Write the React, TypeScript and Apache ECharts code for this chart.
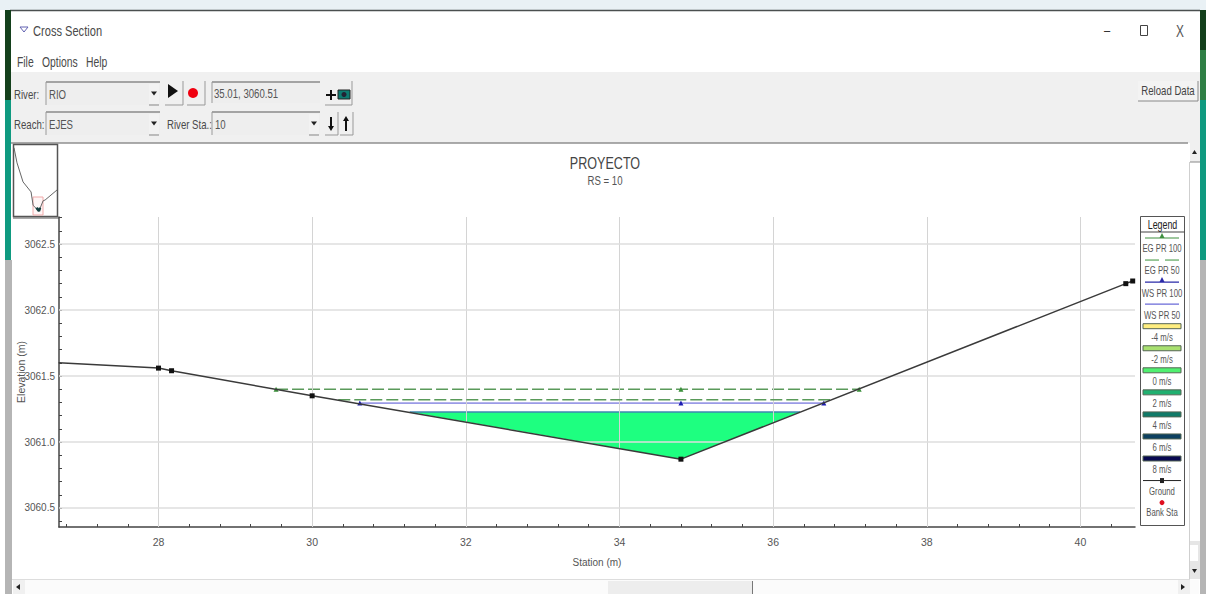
import React, { useEffect, useRef } from "react";
import * as echarts from "echarts";

const xLabels = [28, 30, 32, 34, 36, 38, 40];
const yLabels = [3060.5, 3061.0, 3061.5, 3062.0, 3062.5];
const xMinorTicks = [26.8, 27.2, 27.6, 28, 28.4, 28.8, 29.2, 29.6, 30, 30.4, 30.8, 31.2, 31.6, 32, 32.4, 32.8, 33.2, 33.6, 34, 34.4, 34.8, 35.2, 35.6, 36, 36.4, 36.8, 37.2, 37.6, 38, 38.4, 38.8, 39.2, 39.6, 40, 40.4];
const yMinorTicks = [3060.4, 3060.5, 3060.6, 3060.7, 3060.8, 3060.9, 3061.0, 3061.1, 3061.2, 3061.3, 3061.4, 3061.5, 3061.6, 3061.7, 3061.8, 3061.9, 3062.0, 3062.1, 3062.2, 3062.3, 3062.4, 3062.5, 3062.6, 3062.7];

const groundStations = [26.7, 28, 28.17, 30, 34.8, 40.59, 40.68];
const groundElevations = [3061.6, 3061.56, 3061.54, 3061.35, 3060.87, 3062.2, 3062.22];
const groundMarked = [false, true, true, true, true, true, true];

const eg100Stations = [29.53, 34.8, 37.12];
const eg100Elevation = 3061.4;
const eg50Stations = [30.34, 36.74];
const eg50Elevation = 3061.32;
const ws100Stations = [30.62, 34.8, 36.66];
const ws100Elevation = 3061.295;
const ws50Stations = [31.27, 36.35];
const ws50Elevation = 3061.227;
const waterStations = [31.27, 34.8, 36.35];
const waterElevations = [3061.227, 3060.87, 3061.227];

const overviewStations = [0, 4.2, 12.6, 23.8, 26.7, 34.8, 40.6, 43.4, 60];
const overviewElevations = [3069.07, 3067.12, 3064.65, 3063.35, 3061.6, 3060.87, 3062.2, 3062.3, 3063.6];
const overviewWaterStations = [31.3, 34.8, 36.4];
const overviewWaterElevations = [3061.3, 3060.87, 3061.3];

const legendRows = [
  { label: "EG PR 100", kind: "line", color: "#3f8f3f", mark: true },
  { label: "EG PR 50", kind: "dash", color: "#5aa55a", mark: false },
  { label: "WS PR 100", kind: "line", color: "#2a2aa8", mark: true },
  { label: "WS PR 50", kind: "line", color: "#6a6ad8", mark: false },
  { label: "-4 m/s", kind: "swatch", color: "#ffee80", mark: false },
  { label: "-2 m/s", kind: "swatch", color: "#a8e070", mark: false },
  { label: "0 m/s", kind: "swatch", color: "#50f070", mark: false },
  { label: "2 m/s", kind: "swatch", color: "#20b070", mark: false },
  { label: "4 m/s", kind: "swatch", color: "#107a68", mark: false },
  { label: "6 m/s", kind: "swatch", color: "#0c4060", mark: false },
  { label: "8 m/s", kind: "swatch", color: "#080850", mark: false },
  { label: "Ground", kind: "ground", color: "#222222", mark: true },
  { label: "Bank Sta", kind: "bank", color: "#e01020", mark: true },
];

const FONT = "'Liberation Sans', Arial, sans-serif";
const SQUEEZE = 0.74;

const txt = (x: number, y: number, text: string, size = 12, fill = "#4a4a4a", align = "left") => ({
  type: "text", x, y, scaleX: SQUEEZE, silent: true,
  style: { text, fontFamily: FONT, fontSize: size, fill, align, verticalAlign: "middle" },
});
const box = (x: number, y: number, width: number, height: number, fill: string, stroke = "none", lineWidth = 1) => ({
  type: "rect", silent: true, shape: { x, y, width, height },
  style: { fill, stroke, lineWidth },
});
const seg = (x1: number, y1: number, x2: number, y2: number, stroke: string, lineWidth = 1, lineDash?: number[]) => ({
  type: "line", silent: true, shape: { x1, y1, x2, y2 },
  style: { stroke, lineWidth, lineDash },
});
const poly = (points: number[][], fill: string, stroke = "none") => ({
  type: "polygon", silent: true, shape: { points }, style: { fill, stroke },
});

const dropdown = (x: number, y: number, w: number, h: number, text: string) => [
  box(x, y, w, h, "#eeeeee"),
  seg(x, y, x + w, y, "#8a8a8a", 1.5),
  seg(x, y, x, y + h, "#9a9a9a", 1),
  txt(x + 3, y + h / 2 + 1, text, 13, "#555"),
  box(x + w - 11, y + 2, 10, h - 3, "#f2f2f2"),
  seg(x + w - 11, y + h, x + w - 1, y + h, "#888", 1),
  poly([[x + w - 9, y + h / 2 - 2], [x + w - 3, y + h / 2 - 2], [x + w - 6, y + h / 2 + 2]], "#222"),
];
const button = (x: number, y: number, w: number, h: number) => [
  box(x, y, w, h, "#f0f0f0"),
  seg(x + w, y, x + w, y + h, "#999", 1),
  seg(x, y + h, x + w, y + h, "#999", 1),
];

const chrome = () => {
  const out: any[] = [
    box(0, 0, 1206, 594, "#ffffff"),
    box(0, 0, 1206, 10, "#e9f1f5"),
    seg(10, 10.5, 1200, 10.5, "#4a4f4f", 1.5),
    box(5, 10, 6, 90, "#14401c"),
    box(5, 100, 6, 160, "#0f9a80"),
    box(5, 260, 7, 334, "#b5b5b5"),
    box(1200, 10, 6, 40, "#14401c"),
    box(1200, 50, 6, 50, "#2f7f45"),
    box(1200, 100, 6, 160, "#0f9a80"),
    box(1200, 260, 6, 334, "#b5b5b5"),
    poly([[20, 27], [28, 27], [24, 32]], "#ffffff", "#6060b0"),
    txt(33, 31, "Cross Section", 15),
    txt(1104, 30, "–", 15, "#333"),
    box(1140.5, 25.5, 7, 10, "#fff", "#444", 1),
    txt(1176, 31, "X", 16, "#555"),
    txt(17, 62, "File", 14),
    txt(42, 62, "Options", 14),
    txt(86, 62, "Help", 14),
    box(11, 72, 1189, 71, "#f0f0f0"),
    seg(11, 143, 1188, 143, "#8f8f8f", 1.5),
    txt(14, 94, "River:", 13),
    txt(14, 124, "Reach:", 13),
    ...dropdown(46, 82, 114, 23, "RIO"),
    ...dropdown(46, 112, 114, 23, "EJES"),
    ...button(165, 81, 18, 24),
    poly([[168, 84], [168, 98], [178, 91]], "#111"),
    ...button(187, 81, 18, 24),
    { type: "circle", silent: true, shape: { cx: 193, cy: 93, r: 5 }, style: { fill: "#f00010" } },
    box(212, 82, 108, 21, "#eeeeee"),
    seg(212, 82, 320, 82, "#8a8a8a", 1.5),
    seg(212, 82, 212, 103, "#9a9a9a", 1),
    txt(214, 93, "35.01, 3060.51", 13, "#555"),
    txt(167, 124, "River Sta.:", 13),
    ...dropdown(212, 112, 108, 23, "10"),
    ...button(325, 81, 27, 24),
    seg(326, 95, 336, 95, "#111", 2),
    seg(331, 90, 331, 100, "#111", 2),
    box(338, 90, 12, 9, "#0e7a70", "#222"),
    { type: "circle", silent: true, shape: { cx: 344, cy: 94.5, r: 2.5 }, style: { fill: "#223" } },
    ...button(325, 112, 13, 23),
    ...button(340, 112, 13, 23),
    seg(331, 117, 331, 128, "#111", 2),
    poly([[328, 126], [334, 126], [331, 131]], "#111"),
    seg(346, 120, 346, 131, "#111", 2),
    poly([[343, 121], [349, 121], [346, 116]], "#111"),
    box(1138, 81, 60, 20, "#f3f3f3"),
    seg(1138, 101, 1198, 101, "#888", 1),
    seg(1198, 81, 1198, 101, "#888", 1),
    txt(1168, 90, "Reload Data", 13, "#444", "center"),
    box(13.5, 144.5, 44, 72, "none", "#555", 1.5),
    box(33, 197, 10, 18, "rgba(255,170,170,0.1)", "#f0aaaa", 1),
    seg(13, 218, 59, 218, "#555", 1),
    txt(605, 163, "PROYECTO", 17, "#444", "center"),
    txt(605, 180, "RS = 10", 13, "#555", "center"),
    // scroll bars
    box(1190, 143, 10, 19, "#f0f0f0"),
    seg(1190, 162, 1200, 162, "#888", 1),
    poly([[1192, 154], [1197, 154], [1194.5, 150]], "#222"),
    seg(1189.5, 162, 1189.5, 579, "#cfcfcf", 1),
    box(1190, 541, 10, 38, "#e6e6e6"),
    box(1190, 545, 8, 16, "#ffffff"),
    poly([[1192, 569], [1197, 569], [1194.5, 573]], "#222"),
    seg(12, 579.5, 1190, 579.5, "#dddddd", 1),
    box(13, 580, 1186, 14, "#fbfbfb"),
    box(13, 580, 12, 14, "#f0f0f0"),
    poly([[20, 584], [20, 590], [16, 587]], "#222"),
    box(608, 581, 144, 13, "#ededed"),
    seg(752.5, 581, 752.5, 594, "#777", 1),
    box(1178, 580, 12, 14, "#f0f0f0"),
    poly([[1181, 584], [1181, 590], [1185, 587]], "#222"),
    // legend frame
    box(1140.5, 216.5, 44, 309, "#ffffff", "#555", 1),
    seg(1140.5, 232, 1184.5, 232, "#444", 1.2),
    txt(1162.5, 224, "Legend", 12, "#222", "center"),
  ];
  const left = 1143;
  const right = 1181;
  const mid = (left + right) / 2;
  legendRows.forEach((row, i) => {
    const y = 238 + i * 22.05;
    if (row.kind === "line") out.push(seg(left + 2, y, right - 2, y, row.color, 1.2));
    if (row.kind === "dash") {
      out.push(seg(left + 2, y, mid - 3, y, row.color, 1.2));
      out.push(seg(mid + 3, y, right - 2, y, row.color, 1.2));
    }
    if (row.kind === "swatch") out.push(box(left, y - 2.5, right - left, 5, row.color, "#556655", 1));
    if (row.kind === "ground") {
      out.push(seg(left, y, right, y, row.color, 1));
      out.push(box(mid - 2, y - 2.5, 4, 5, row.color));
    }
    if (row.kind === "bank") {
      out.push({ type: "circle", silent: true, shape: { cx: mid, cy: y, r: 2.5 }, style: { fill: row.color } });
    }
    if (row.kind === "line" && row.mark) out.push(poly([[mid - 2.5, y], [mid + 2.5, y], [mid, y - 5]], row.color));
    out.push(txt(mid, y + (row.kind === "bank" ? 9.5 : 11), row.label, 10.5, "#555", "center"));
  });
  return out;
};

const level = (stations: number[], elevation: number) => stations.map((s) => [s, elevation]);

export default function App() {
  const ref = useRef<HTMLDivElement>(null);
  useEffect(() => {
    if (!ref.current) return;
    const chart = echarts.init(ref.current, undefined, { renderer: "svg" });
    chart.setOption({
      animation: false,
      backgroundColor: "#ffffff",
      textStyle: { fontFamily: FONT },
      graphic: { elements: chrome() },
      grid: [
        { left: 59, top: 217, right: 71, height: 310, containLabel: false, outerBoundsMode: "none" },
        { left: 14, top: 146, width: 43, height: 69, outerBoundsMode: "none" },
      ],
      xAxis: [
        {
          type: "value", min: 26.705, max: 40.71,
          name: "Station (m)", nameLocation: "middle", nameGap: 30, nameMoveOverlap: false,
          nameTextStyle: { fontFamily: FONT, fontSize: 10, color: "#555" },
          axisLine: { show: true, onZero: false, lineStyle: { color: "#444", width: 1.5 } },
          axisTick: { show: true, inside: true, length: 3, customValues: xMinorTicks, lineStyle: { color: "#444" } },
          axisLabel: { customValues: xLabels, margin: 9, fontFamily: FONT, fontSize: 10.5, color: "#555", formatter: (v: number) => String(v) },
          splitLine: { show: false },
        },
        { type: "value", gridIndex: 1, min: 0, max: 60, show: false, splitLine: { show: false } },
      ],
      yAxis: [
        {
          type: "value", min: 3060.356, max: 3062.705,
          name: "Elevation (m)", nameLocation: "middle", nameGap: 33, nameRotate: 90, nameMoveOverlap: false,
          nameTextStyle: { fontFamily: FONT, fontSize: 10.5, color: "#555" },
          axisLine: { show: true, onZero: false, lineStyle: { color: "#444", width: 1.5 } },
          axisTick: { show: true, inside: true, length: 3, customValues: yMinorTicks, lineStyle: { color: "#444" } },
          axisLabel: { customValues: yLabels, margin: 4, fontFamily: FONT, fontSize: 10, color: "#555", formatter: (v: number) => v.toFixed(1) },
          splitLine: { show: false },
        },
        { type: "value", gridIndex: 1, min: 3060.36, max: 3069.3, show: false, splitLine: { show: false } },
      ],
      series: [
        {
          name: "Gridlines", type: "line", data: [], z: 1, silent: true,
          markLine: {
            silent: true, symbol: "none", label: { show: false }, animation: false,
            data: [
              ...xLabels.map((v) => ({ xAxis: v, lineStyle: { color: "#d4d4d4", width: 1, type: "solid" } })),
              ...yLabels.map((v) => ({ yAxis: v, lineStyle: { color: "#dedede", width: 1.5, type: "solid" } })),
            ],
          },
        },
        {
          name: "0 m/s", type: "custom", z: 3, silent: true,
          data: waterStations.map((s, i) => [s, waterElevations[i]]),
          encode: { x: 0, y: 1 },
          renderItem: (params: any, api: any) => {
            if (params.dataIndex !== 0) return { type: "group", children: [] };
            return {
              type: "polygon",
              shape: { points: waterStations.map((s, i) => api.coord([s, waterElevations[i]])) },
              style: { fill: "#1eff80" },
            };
          },
        },
        {
          name: "EG PR 100", type: "line", z: 4, data: level(eg100Stations, eg100Elevation),
          symbol: "triangle", symbolSize: 5, itemStyle: { color: "#3a8f3a" },
          lineStyle: { color: "#5a9a5a", width: 1.5, type: [12, 4] },
        },
        {
          name: "EG PR 50", type: "line", z: 5, data: level(eg50Stations, eg50Elevation),
          symbol: "none", lineStyle: { color: "#5a9a5a", width: 1.5, type: [12, 4] },
        },
        {
          name: "WS PR 100", type: "line", z: 4, data: level(ws100Stations, ws100Elevation),
          symbol: "triangle", symbolSize: 5, itemStyle: { color: "#1c1cb0" },
          lineStyle: { color: "#9a9ae6", width: 1.6 },
        },
        {
          name: "WS PR 50", type: "line", z: 4, data: level(ws50Stations, ws50Elevation),
          symbol: "none", lineStyle: { color: "#3f86b0", width: 1.6 },
        },
        {
          name: "Ground", type: "line", z: 6,
          data: groundStations.map((s, i) => ({
            value: [s, groundElevations[i]],
            symbol: groundMarked[i] ? "rect" : "none",
            symbolSize: groundMarked[i] ? 5 : 0,
          })),
          itemStyle: { color: "#111111" },
          lineStyle: { color: "#3a3a3a", width: 1.5 },
        },
        {
          name: "Overview ground", type: "line", xAxisIndex: 1, yAxisIndex: 1, silent: true, z: 4,
          data: overviewStations.map((s, i) => [s, overviewElevations[i]]),
          symbol: "none", lineStyle: { color: "#666", width: 1 },
        },
        {
          name: "Overview water", type: "line", xAxisIndex: 1, yAxisIndex: 1, silent: true, z: 5,
          data: overviewWaterStations.map((s, i) => [s, overviewWaterElevations[i]]),
          symbol: "none", lineStyle: { color: "#123c3c", width: 2.5 },
        },
      ],
    });
    return () => chart.dispose();
  }, []);
  return <div ref={ref} style={{ position: "absolute", left: 0, top: 0, width: 1206, height: 594 }} />;
}
